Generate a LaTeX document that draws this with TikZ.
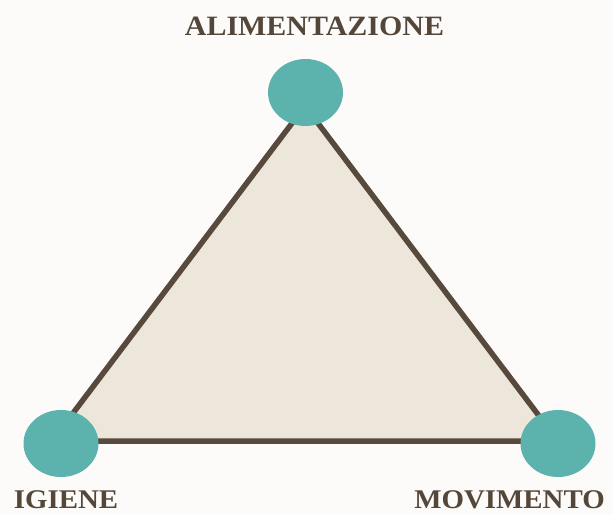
\documentclass[tikz,border=0pt]{standalone}
\usepackage{fontspec}
\setmainfont{Liberation Serif}
\newfontfamily\labelfont[FakeStretch=1.07]{Liberation Serif}
\definecolor{bgcol}{HTML}{FCFBF9}
\definecolor{trifill}{HTML}{EDE6DB}
\definecolor{tristroke}{HTML}{574A3D}
\definecolor{tealcol}{HTML}{5CB2AC}
\definecolor{txtcol}{HTML}{54473A}
\tikzset{
  vertexdot/.style={ellipse, fill=tealcol, draw=none, minimum width=75pt, minimum height=67pt, inner sep=0pt},
  lbl/.style={anchor=base, text=txtcol, inner sep=0pt, text depth=0pt, font=\labelfont\bfseries\fontsize{28}{30}\selectfont},
  lblsmall/.style={lbl, font=\labelfont\bfseries\fontsize{27}{30}\selectfont},
}
\usetikzlibrary{shapes.geometric}
\begin{document}
\begin{tikzpicture}[x=1pt,y=-1pt]
\fill[bgcol] (0,0) rectangle (613,514);
\useasboundingbox (0,0) rectangle (613,514);
\coordinate (ta) at (305,106);
\coordinate (tb) at (52,441);
\coordinate (tc) at (558,441);
\filldraw[fill=trifill, draw=tristroke, line width=5.5pt, line join=miter] (ta) -- (tb) -- (tc) -- cycle;
\node[vertexdot] (top) at (305.5,92.5) {};
\node[vertexdot] (left) at (61,443.5) {};
\node[vertexdot] (right) at (558,443.5) {};
\node[lbl] (ali) at (314.5,35) {ALIMENTAZIONE};
\node[lblsmall] (igi) at (66,508) {IGIENE};
\node[lblsmall] (mov) at (509.5,508) {MOVIMENTO};
\end{tikzpicture}
\end{document}
